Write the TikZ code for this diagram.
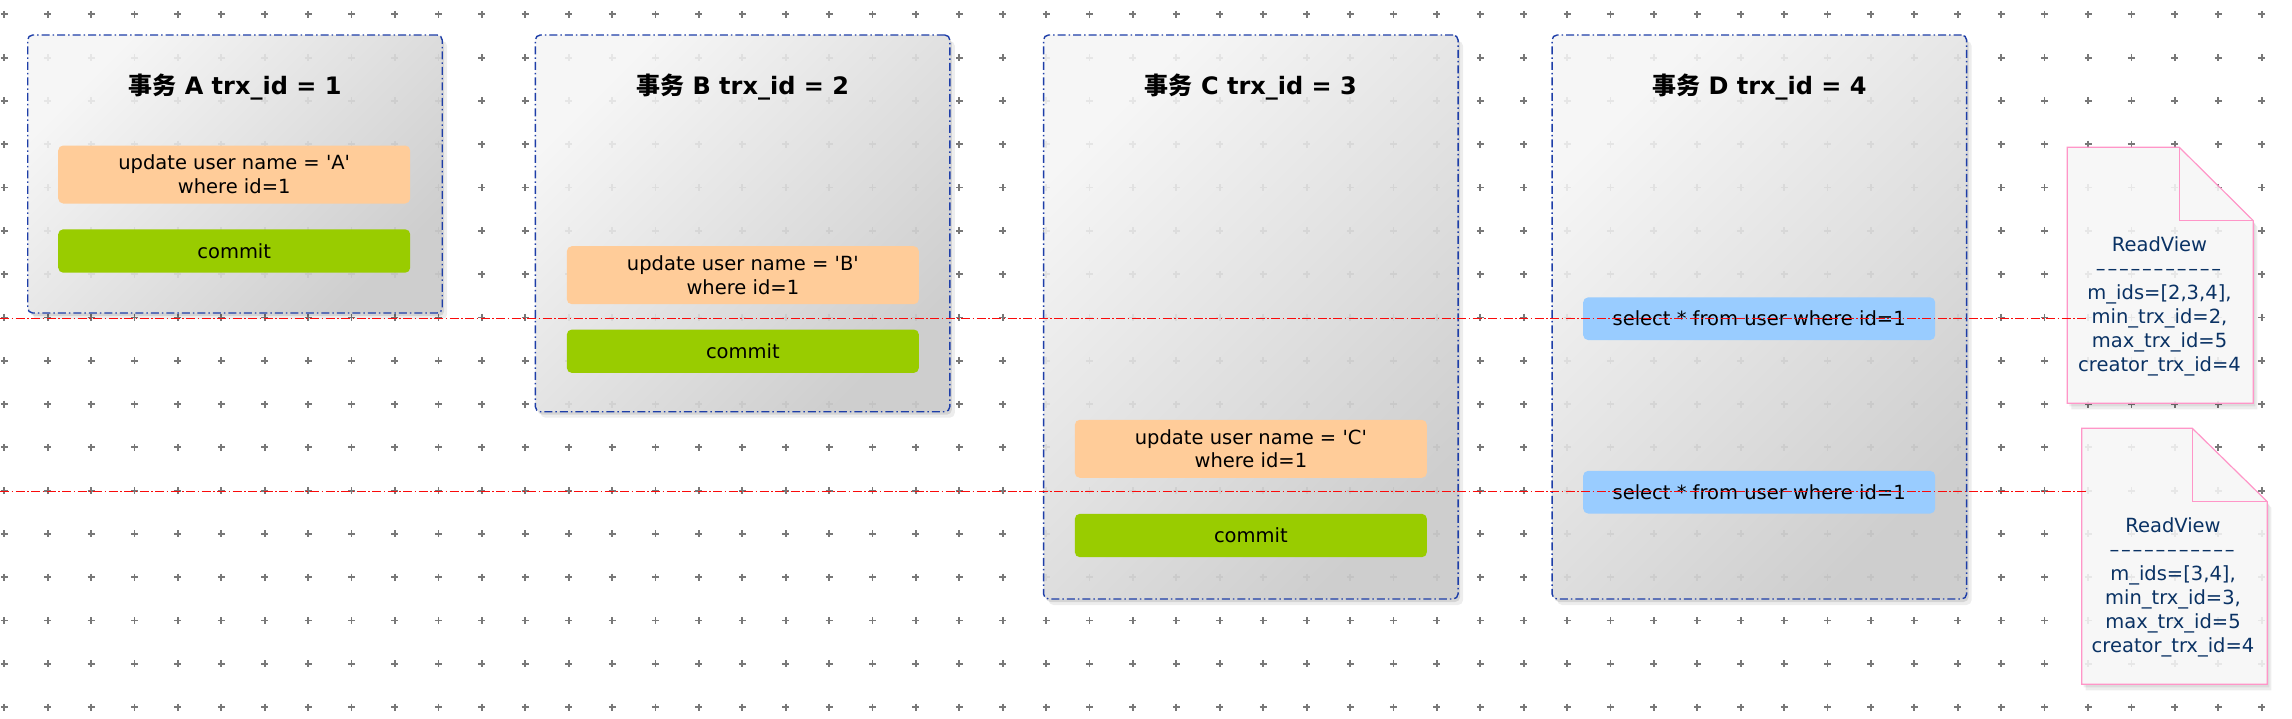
\documentclass[tikz,border=0pt]{standalone}
\usepackage{fontspec}
\setmainfont{DejaVu Sans}[Ligatures=TeXOff]
\newfontfamily\cjk{Noto Sans CJK SC}
\usetikzlibrary{shadows}
\definecolor{bordblue}{RGB}{30,62,168}
\definecolor{linered}{RGB}{250,10,10}
\definecolor{updfill}{RGB}{255,204,153}
\definecolor{cmtfill}{RGB}{153,204,0}
\definecolor{selfill}{RGB}{153,204,255}
\definecolor{notetext}{RGB}{10,50,100}
\definecolor{notebord}{RGB}{255,150,200}
\definecolor{notefill}{RGB}{247,247,247}
\definecolor{gridc}{RGB}{120,120,120}
\definecolor{boxtop}{RGB}{246,246,246}
\definecolor{boxbot}{RGB}{206,206,206}
\newcommand\gridcrosses[1]{%
  \foreach \i in {0,...,52}{\foreach \j in {0,...,16}{%
    \draw[#1] ({4.3+43.41*\i-3.5},{14.3+43.3*\j}) -- ++(7,0)
              ({4.3+43.41*\i},{14.3+43.3*\j-3.5}) -- ++(0,7);}}}
\newcommand\dashrow{\foreach \k in {1,...,11}{–\kern0.9pt}}
\newcommand\readnote[6]{%
  \fill[black,opacity=0.07] (#1+2,#2+3) -- (#5+2,#2+3) -- (#3+2,#6+3) -- (#3+2,#4+3) -- (#1+2,#4+3) -- cycle;
  \fill[black,opacity=0.07] (#1+4,#2+6) -- (#5+4,#2+6) -- (#3+4,#6+6) -- (#3+4,#4+6) -- (#1+4,#4+6) -- cycle;
  \filldraw[draw=notebord,fill=notefill,line width=0.6pt] (#1,#2) -- (#5,#2) -- (#3,#6) -- (#3,#4) -- (#1,#4) -- cycle;
  \draw[notebord,line width=0.6pt] (#5,#2) -- (#5,#6) -- (#3,#6);}
\begin{document}
\begin{tikzpicture}[x=0.5pt,y=-0.5pt,
  txbox/.style={draw=bordblue, line width=0.7pt,
    dash pattern=on 4pt off 1.5pt on 0.75pt off 1.5pt,
    rounded corners=2.5pt, top color=boxtop, bottom color=boxbot, shading angle=45,
    minimum width=207.25pt, inner sep=0pt,
    drop shadow={shadow xshift=1pt, shadow yshift=-1.5pt, opacity=0.10, fill=black},
    drop shadow={shadow xshift=2.5pt, shadow yshift=-3pt, opacity=0.07, fill=black}},
  ttl/.style={font=\fontsize{12pt}{14pt}\selectfont\bfseries, inner sep=0pt},
  bar/.style={rounded corners=2.5pt, minimum width=176pt, inner sep=0pt, align=center,
    font=\fontsize{9.75pt}{11.85pt}\selectfont},
  upd/.style={bar, fill=updfill, minimum height=29pt},
  cmt/.style={bar, fill=cmtfill, minimum height=21.7pt},
  sel/.style={bar, fill=selfill, minimum height=21.35pt},
  notetxt/.style={text=notetext, align=center, inner sep=0pt,
    font=\fontsize{9.75pt}{12pt}\selectfont},
  redline/.style={draw=linered, line width=0.75pt,
    dash pattern=on 4.5pt off 1.25pt on 0.75pt off 1.25pt}]
\useasboundingbox (0,0) rectangle (2292,718);
\fill[white] (0,0) rectangle (2292,718);
% background grid
\gridcrosses{gridc, line width=0.9pt}
% transaction boxes
\node[txbox, minimum height=139pt] (bA) at (234.95,174) {};
\node[txbox, minimum height=188.35pt] (bB) at (742.6,223.35) {};
\node[txbox, minimum height=282pt] (bC) at (1250.8,317) {};
\node[txbox, minimum height=282pt] (bD) at (1759.35,317) {};
% read view notes
\readnote{2067.3}{147.3}{2253.3}{403.3}{2179.3}{220.7}
\readnote{2081.7}{428.3}{2267.3}{684.3}{2192.3}{501.7}
% faint grid seen through the boxes
\begin{scope}
  \clip (bA.north west) rectangle (bA.south east)
        (bB.north west) rectangle (bB.south east)
        (bC.north west) rectangle (bC.south east)
        (bD.north west) rectangle (bD.south east)
        (2067.3,147.3) -- (2179.3,147.3) -- (2253.3,220.7) -- (2253.3,403.3) -- (2067.3,403.3) -- cycle
        (2081.7,428.3) -- (2192.3,428.3) -- (2267.3,501.7) -- (2267.3,684.3) -- (2081.7,684.3) -- cycle;
  \gridcrosses{gridc, opacity=0.12, line width=0.9pt}
\end{scope}
% titles
\node[ttl] (tA) at (234.95,87) {{\cjk 事务} A trx\_id = 1};
\node[ttl] (tB) at (742.6,87) {{\cjk 事务} B trx\_id = 2};
\node[ttl] (tC) at (1250.8,87) {{\cjk 事务} C trx\_id = 3};
\node[ttl] (tD) at (1759.35,87) {{\cjk 事务} D trx\_id = 4};
% statements
\node[upd] (uA) at (234.2,174.5) {update user name = 'A'\\where id=1};
\node[cmt] (cA) at (234.2,251) {commit};
\node[upd] (uB) at (742.85,275.2) {update user name = 'B'\\where id=1};
\node[cmt] (cB) at (742.85,351.2) {commit};
\node[upd] (uC) at (1250.85,448.8) {update user name = 'C'\\where id=1};
\node[cmt] (cC) at (1250.85,535.5) {commit};
\node[sel] (sD1) at (1759.15,318.7) {select * from user where id=1};
\node[sel] (sD2) at (1759.15,492.2) {select * from user where id=1};
% note texts
\node[notetxt] (rv1) at (2159.5,306.7) {ReadView\\\dashrow\\m\_ids=[2,3,4],\\min\_trx\_id=2,\\max\_trx\_id=5\\creator\_trx\_id=4};
\node[notetxt] (rv2) at (2173,587.3) {ReadView\\\dashrow\\m\_ids=[3,4],\\min\_trx\_id=3,\\max\_trx\_id=5\\creator\_trx\_id=4};
% time lines
\coordinate (r1a) at (0,318.3);
\coordinate (r1b) at (2087,318.3);
\coordinate (r2a) at (0,491.7);
\coordinate (r2b) at (2087,491.7);
\draw[redline] (r1a) -- (r1b);
\draw[redline] (r2a) -- (r2b);
\end{tikzpicture}
\end{document}
